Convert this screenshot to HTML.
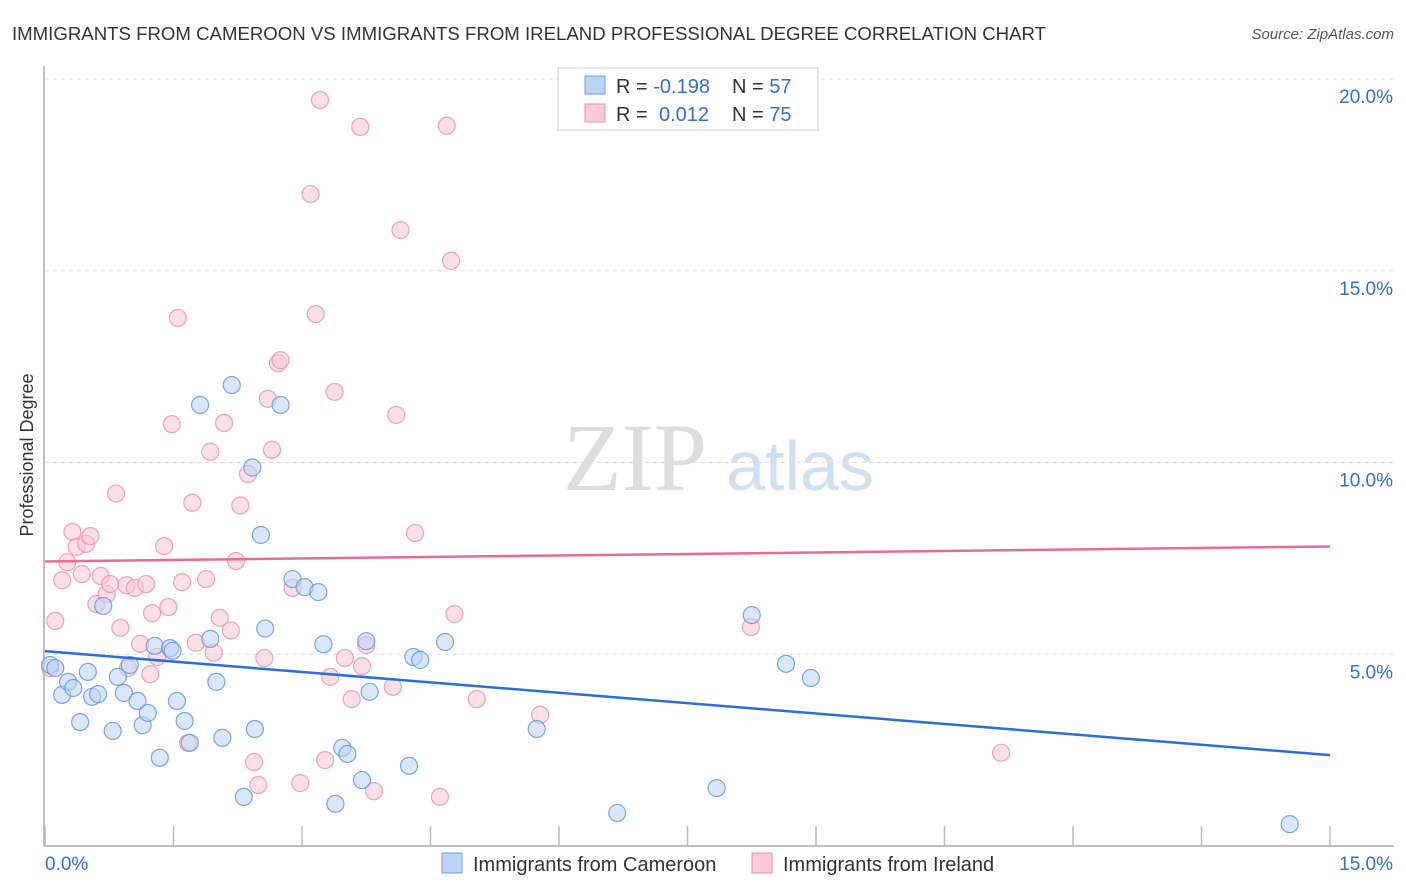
<!DOCTYPE html>
<html><head><meta charset="utf-8"><style>
body{margin:0;background:#fff;font-family:"Liberation Sans",sans-serif}
svg{display:block}
</style></head><body>
<svg id="c" width="1406" height="892" xmlns="http://www.w3.org/2000/svg">
<text x="12" y="40" font-size="18" fill="#333" textLength="1034" lengthAdjust="spacingAndGlyphs">IMMIGRANTS FROM CAMEROON VS IMMIGRANTS FROM IRELAND PROFESSIONAL DEGREE CORRELATION CHART</text>
<text x="1394" y="39" font-size="15" fill="#555" font-style="italic" text-anchor="end">Source: ZipAtlas.com</text>
<text x="33" y="455" font-size="18" fill="#333" text-anchor="middle" transform="rotate(-90 33 455)">Professional Degree</text>
<text x="635" y="490" font-size="96" fill="#ddd" font-family="Liberation Serif,serif" text-anchor="middle">ZIP</text>
<text x="800" y="490" font-size="70" fill="#cfe0f3" text-anchor="middle">atlas</text>
<g id="grid"></g><g id="axes"></g><g id="pts"></g><g id="lines"></g>
<g>
<rect x="558" y="68" width="260" height="62" fill="#fff" stroke="#ccc"/>
<rect x="585" y="76" width="20" height="18" fill="#bcd4f5" stroke="#6fa0e0"/>
<rect x="585" y="104" width="20" height="18" fill="#fbcad8" stroke="#eb8fae"/>
<text x="616" y="93" font-size="20" fill="#333">R = <tspan fill="#2f6fd6">-0.198</tspan>  <tspan x="732">N = </tspan><tspan fill="#2f6fd6">57</tspan></text>
<text x="616" y="121" font-size="20" fill="#333">R = <tspan fill="#2f6fd6" x="659">0.012</tspan>  <tspan x="732">N = </tspan><tspan fill="#2f6fd6">75</tspan></text>
</g>
<g>
<rect x="442" y="853" width="20" height="20" fill="#bcd4f5" stroke="#6fa0e0"/>
<text x="473" y="871" font-size="20" fill="#333">Immigrants from Cameroon</text>
<rect x="752" y="853" width="20" height="20" fill="#fbcad8" stroke="#eb8fae"/>
<text x="783" y="871" font-size="20" fill="#333">Immigrants from Ireland</text>
</g>
</svg>
<script>
const xTicks=[0,1.5,3,4.5,6,7.5,9,10.5,12,13.5,15];
const yTicks=[5,10,15,20];
const yTickLabels=["5.0%","10.0%","15.0%","20.0%"];
const cameroonX=[0.06,0.12,0.2,0.27,0.33,0.41,0.5,0.55,0.62,0.68,0.79,0.85,0.92,0.99,1.08,1.14,1.2,1.28,1.34,1.46,1.49,1.54,1.63,1.69,1.81,1.93,2.0,2.07,2.18,2.32,2.42,2.45,2.52,2.57,2.75,2.89,3.03,3.19,3.25,3.39,3.47,3.53,3.7,3.75,3.79,4.25,4.3,4.38,4.67,5.74,6.68,7.84,8.25,8.65,8.94,14.53];
const cameroonY=[4.72,4.64,3.94,4.28,4.12,3.23,4.54,3.89,3.96,6.26,3.0,4.41,3.99,4.72,3.78,3.15,3.47,5.22,2.3,5.16,5.09,3.78,3.26,2.69,11.5,5.4,4.28,2.82,12.02,1.28,9.87,3.05,8.11,5.67,11.5,6.96,6.75,6.62,5.26,1.1,2.56,2.4,1.72,5.34,4.02,2.09,4.93,4.85,5.32,3.05,0.86,1.51,6.02,4.75,4.38,0.57];
const irelandX=[0.06,0.12,0.2,0.26,0.32,0.37,0.43,0.48,0.53,0.6,0.65,0.72,0.76,0.83,0.88,0.95,0.97,1.05,1.11,1.18,1.23,1.25,1.31,1.39,1.44,1.48,1.55,1.6,1.67,1.72,1.76,1.88,1.93,1.97,2.04,2.09,2.17,2.23,2.28,2.37,2.44,2.49,2.56,2.6,2.65,2.72,2.75,2.89,2.98,3.1,3.16,3.21,3.27,3.33,3.38,3.5,3.58,3.68,3.7,3.75,3.84,4.06,4.1,4.15,4.32,4.61,4.69,4.74,4.78,5.04,5.78,8.24,11.16];
const irelandY=[4.64,5.87,6.93,7.4,8.19,7.8,7.09,7.88,8.08,6.31,7.04,6.57,6.83,9.19,5.69,6.8,4.64,6.73,5.27,6.83,4.48,6.07,4.93,7.82,6.23,11.0,13.77,6.88,2.69,8.95,5.3,6.96,10.28,5.04,5.95,11.03,5.62,7.43,8.88,9.7,2.19,1.59,4.9,11.66,10.33,12.59,12.67,6.73,1.64,17.0,13.87,19.45,2.24,4.41,11.84,4.9,3.83,18.75,4.69,5.24,1.43,4.15,11.24,16.06,8.16,1.28,18.78,15.26,6.05,3.83,3.42,5.71,2.43];
const cameroonTrend=[5.08,2.37];
const irelandTrend=[7.42,7.81];
const X0=45,X1=1330,Y0=846,YS=38.35;
const sx=v=>X0+(v-0)/15*(X1-X0);
const sy=v=>Y0-v*YS;
const NS="http://www.w3.org/2000/svg";
function mk(tag,attrs,parent){const e=document.createElementNS(NS,tag);for(const k in attrs)e.setAttribute(k,attrs[k]);parent.appendChild(e);return e;}
const grid=document.getElementById('grid'),axes=document.getElementById('axes'),pts=document.getElementById('pts'),lines=document.getElementById('lines');
yTicks.forEach((t,i)=>{
 const l=mk('line',{x1:X0,x2:1394,y1:sy(t),y2:sy(t),stroke:'#ddd','stroke-dasharray':'4,4'},grid);
 
 
 const tx=mk('text',{x:1393,y:sy(t)+24,'font-size':19,fill:'#2f6fd6','text-anchor':'end'},axes);
 tx.textContent=yTickLabels[i];
 
 
});
mk('line',{x1:X0-1,x2:X0-1,y1:66,y2:Y0,stroke:'#aaa','stroke-width':1.5},axes);
mk('line',{x1:X0-1,x2:1394,y1:Y0,y2:Y0,stroke:'#aaa','stroke-width':1.5},axes);
xTicks.forEach(t=>{
 const l=mk('line',{x1:sx(t),x2:sx(t),y1:826,y2:Y0,stroke:'#bbb','stroke-width':1.5},axes);
 
 
});
const xl=mk('text',{x:45,y:870,'font-size':19,fill:'#2f6fd6'},axes);xl.textContent='0.0%';

const xr=mk('text',{x:1393,y:870,'font-size':19,fill:'#2f6fd6','text-anchor':'end'},axes);xr.textContent='15.0%';

function series(xs,ys,fill,stroke,name){
 xs.forEach((x,i)=>{
  const c=mk('circle',{cx:sx(x),cy:sy(ys[i]),r:8.5,fill:fill,'fill-opacity':0.55,stroke:stroke,'stroke-opacity':0.8,'stroke-width':1.2},pts);
  
  
 });
}
series(irelandX,irelandY,'#fbc4d4','#eb8fae','point-ireland');
series(cameroonX,cameroonY,'#bcd4f5','#5b92df','point-cameroon');
const bl=mk('line',{x1:sx(0),y1:sy(cameroonTrend[0]),x2:sx(15),y2:sy(cameroonTrend[1]),stroke:'#2a6fd8','stroke-width':2.5},lines);


const pl=mk('line',{x1:sx(0),y1:sy(irelandTrend[0]),x2:sx(15),y2:sy(irelandTrend[1]),stroke:'#e86b94','stroke-width':2.5},lines);


</script>
</body></html>
